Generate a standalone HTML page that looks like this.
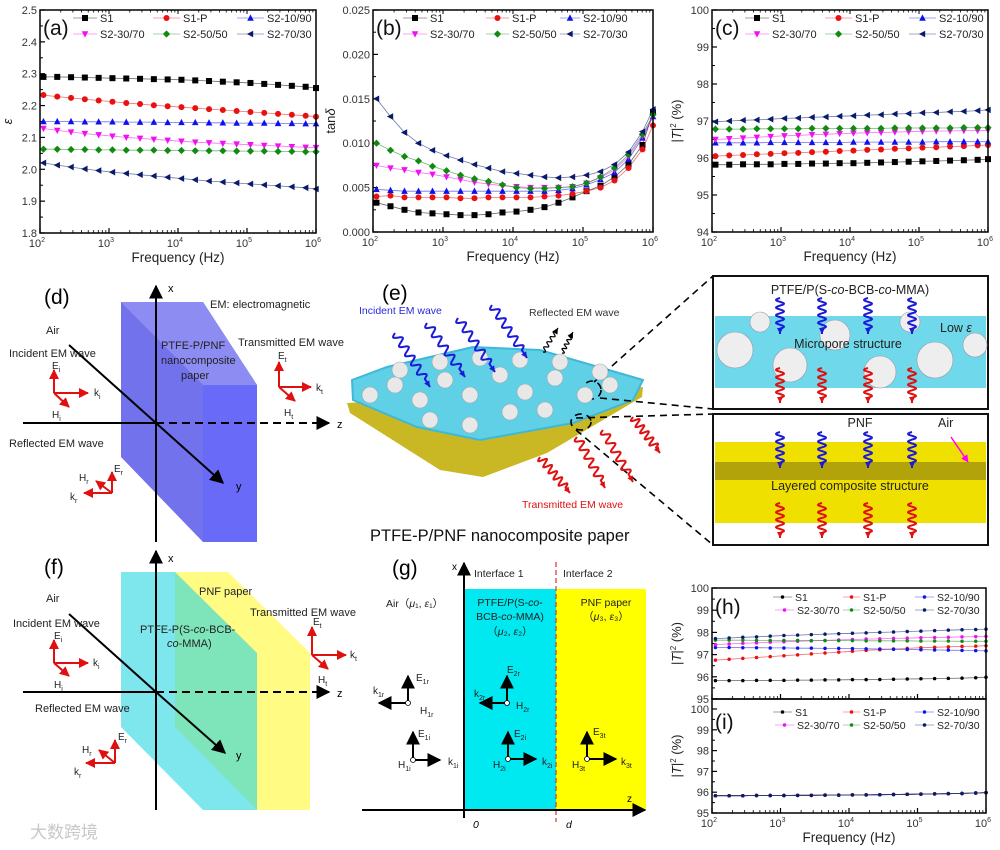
<!DOCTYPE html>
<html><head><meta charset="utf-8">
<style>
html,body{margin:0;padding:0;background:#fff;}
svg{display:block;font-family:"Liberation Sans","Noto Sans CJK SC",sans-serif;}
</style></head>
<body>
<svg id="fig" width="1000" height="850" viewBox="0 0 1000 850" xmlns="http://www.w3.org/2000/svg">
<defs>
<marker id="ah" viewBox="0 0 10 10" refX="9" refY="5" markerWidth="7" markerHeight="7" orient="auto-start-reverse"><path d="M0,0 L10,5 L0,10 z" fill="#000"/></marker>
<marker id="ahr" viewBox="0 0 10 10" refX="9" refY="5" markerWidth="5" markerHeight="5" orient="auto-start-reverse"><path d="M0,0 L10,5 L0,10 z" fill="#e01010"/></marker>
<marker id="ahm" viewBox="0 0 10 10" refX="9" refY="5" markerWidth="5" markerHeight="5" orient="auto"><path d="M0,0 L10,5 L0,10 z" fill="#f0f"/></marker>
</defs>

<!-- (d) diagram -->
<g>
<polygon points="121,302 203,302 257,385 257,542 203,542 121,457" fill="#7272ec"/>
<polygon points="121,302 203,302 257,385 203,385" fill="#8c8cf2"/>
<rect x="203" y="385" width="54" height="157" fill="#6a6af8"/>
<line x1="156" y1="542" x2="156" y2="286" stroke="#000" stroke-width="2" marker-end="url(#ah)"/>
<line x1="23" y1="423" x2="156" y2="423" stroke="#000" stroke-width="2"/>
<line x1="156" y1="423" x2="329" y2="423" stroke="#000" stroke-width="2" stroke-dasharray="8,5" marker-end="url(#ah)"/>
<line x1="156" y1="423" x2="223" y2="483" stroke="#000" stroke-width="2" marker-end="url(#ah)"/>
<line x1="69" y1="345" x2="156" y2="423" stroke="#000" stroke-width="2"/>
<text x="44" y="304" font-size="21">(d)</text>
<text x="168" y="292" font-size="11">x</text>
<text x="337" y="428" font-size="11">z</text>
<text x="236" y="490" font-size="11">y</text>
<text x="210" y="308" font-size="11" fill="#222">EM: electromagnetic</text>
<text x="46" y="334" font-size="11" fill="#222">Air</text>
<text x="9" y="357" font-size="11" fill="#222">Incident EM wave</text>
<text x="161" y="349" font-size="11" fill="#222">PTFE-P/PNF</text>
<text x="161" y="364" font-size="11" fill="#222">nanocomposite</text>
<text x="181" y="379" font-size="11" fill="#222">paper</text>
<text x="238" y="346" font-size="11" fill="#222">Transmitted EM wave</text>
<text x="9" y="447" font-size="11" fill="#222">Reflected EM wave</text>
<g stroke="#e01010" stroke-width="2" fill="none">
<line x1="54" y1="393" x2="54" y2="370" marker-end="url(#ahr)"/><line x1="54" y1="393" x2="88" y2="393" marker-end="url(#ahr)"/><line x1="54" y1="393" x2="69" y2="407" marker-end="url(#ahr)"/>
<line x1="279" y1="387" x2="279" y2="362" marker-end="url(#ahr)"/><line x1="279" y1="387" x2="311" y2="387" marker-end="url(#ahr)"/><line x1="279" y1="387" x2="295" y2="401" marker-end="url(#ahr)"/>
<line x1="112" y1="493" x2="112" y2="472" marker-end="url(#ahr)"/><line x1="112" y1="493" x2="84" y2="493" marker-end="url(#ahr)"/><line x1="112" y1="493" x2="96" y2="481" marker-end="url(#ahr)"/>
</g>
<g font-size="10" fill="#222">
<text x="52" y="369">E<tspan font-size="7" dy="3">i</tspan></text><text x="94" y="396">k<tspan font-size="7" dy="3">i</tspan></text><text x="52" y="418">H<tspan font-size="7" dy="3">i</tspan></text>
<text x="278" y="359">E<tspan font-size="7" dy="3">t</tspan></text><text x="316" y="391">k<tspan font-size="7" dy="3">t</tspan></text><text x="284" y="416">H<tspan font-size="7" dy="3">t</tspan></text>
<text x="114" y="472">E<tspan font-size="7" dy="3">r</tspan></text><text x="79" y="481">H<tspan font-size="7" dy="3">r</tspan></text><text x="70" y="500">k<tspan font-size="7" dy="3">r</tspan></text>
</g>
</g>

<!-- (e) illustration -->
<g id="pe">
<polygon points="347,403 643,387 642,397 547,453 483,477 440,470 350,413" fill="#c9b824"/>
<polygon points="352,380 387,367 473,347 540,350 643,380 633,400 573,423 480,440 417,427 353,400" fill="#5fd0e6" stroke="#3fb8d8" stroke-width="2"/>
<text x="382" y="300" font-size="21">(e)</text>
<text x="359" y="314" font-size="10.5" fill="#2a2ad8">Incident EM wave</text>
<text x="529" y="316" font-size="10.5" fill="#333">Reflected EM wave</text>
<text x="522" y="508" font-size="10.5" fill="#e01010">Transmitted EM wave</text>
<text x="370" y="541" font-size="16.5" fill="#111">PTFE-P/PNF nanocomposite paper</text>
<g stroke="#000" stroke-width="1.6" stroke-dasharray="7,5" fill="none">
<line x1="594" y1="382" x2="713" y2="276"/><line x1="600" y1="398" x2="713" y2="409"/>
<line x1="576" y1="418" x2="713" y2="414"/><line x1="576" y1="430" x2="713" y2="545"/>
<circle cx="592" cy="390" r="9"/><ellipse cx="581" cy="422" rx="10" ry="8"/>
</g>
</g>

<!-- top inset -->
<g id="inTop">
<rect x="713" y="276" width="275" height="133" fill="#fff" stroke="#111" stroke-width="2"/>
<rect x="715" y="316" width="271" height="72" fill="#6fd8ea"/>
<text x="850" y="294" font-size="12.5" text-anchor="middle" fill="#222">PTFE/P(S-<tspan font-style="italic">co</tspan>-BCB-<tspan font-style="italic">co</tspan>-MMA)</text>
<text x="848" y="348" font-size="12.5" text-anchor="middle" fill="#222">Micropore structure</text>
<text x="940" y="332" font-size="12.5" fill="#222">Low <tspan font-style="italic">ε</tspan></text>
</g>
<!-- bottom inset -->
<g id="inBot">
<rect x="713" y="414" width="275" height="131" fill="#fff" stroke="#111" stroke-width="2"/>
<rect x="715" y="442" width="271" height="81" fill="#f0e000"/>
<rect x="715" y="462" width="271" height="18" fill="#8a7a10" opacity="0.6"/>
<text x="860" y="427" font-size="12.5" text-anchor="middle" fill="#222">PNF</text>
<text x="938" y="427" font-size="12.5" fill="#222">Air</text>
<line x1="951" y1="437" x2="968" y2="462" stroke="#f0f" stroke-width="1.5" marker-end="url(#ahm)"/>
<text x="850" y="490" font-size="12.5" text-anchor="middle" fill="#222">Layered composite structure</text>
</g>

<!-- (f) diagram -->
<g>
<polygon points="175,572 228,572 310,653 310,810 257,810 175,727" fill="rgba(255,250,90,0.75)"/>
<polygon points="121,572 175,572 257,653 257,810 203,810 121,727" fill="rgba(40,215,225,0.6)"/>
<line x1="156" y1="810" x2="156" y2="551" stroke="#000" stroke-width="2" marker-end="url(#ah)"/>
<line x1="23" y1="692" x2="156" y2="692" stroke="#000" stroke-width="2"/>
<line x1="156" y1="692" x2="329" y2="692" stroke="#000" stroke-width="2" stroke-dasharray="8,5" marker-end="url(#ah)"/>
<line x1="156" y1="692" x2="225" y2="753" stroke="#000" stroke-width="2" marker-end="url(#ah)"/>
<line x1="69" y1="614" x2="156" y2="692" stroke="#000" stroke-width="2"/>
<text x="44" y="574" font-size="21">(f)</text>
<text x="168" y="562" font-size="11">x</text>
<text x="337" y="697" font-size="11">z</text>
<text x="236" y="759" font-size="11">y</text>
<text x="46" y="602" font-size="11" fill="#222">Air</text>
<text x="13" y="627" font-size="11" fill="#222">Incident EM wave</text>
<text x="199" y="595" font-size="11" fill="#222">PNF paper</text>
<text x="250" y="616" font-size="11" fill="#222">Transmitted EM wave</text>
<text x="140" y="633" font-size="11" fill="#222">PTFE-P(S-<tspan font-style="italic">co</tspan>-BCB-</text>
<text x="167" y="647" font-size="11" fill="#222"><tspan font-style="italic">co</tspan>-MMA)</text>
<text x="35" y="712" font-size="11" fill="#222">Reflected EM wave</text>
<g stroke="#e01010" stroke-width="2" fill="none">
<line x1="54" y1="663" x2="54" y2="640" marker-end="url(#ahr)"/><line x1="54" y1="663" x2="88" y2="663" marker-end="url(#ahr)"/><line x1="54" y1="663" x2="69" y2="676" marker-end="url(#ahr)"/>
<line x1="312" y1="655" x2="312" y2="627" marker-end="url(#ahr)"/><line x1="312" y1="655" x2="346" y2="655" marker-end="url(#ahr)"/><line x1="312" y1="655" x2="328" y2="669" marker-end="url(#ahr)"/>
<line x1="115" y1="763" x2="115" y2="740" marker-end="url(#ahr)"/><line x1="115" y1="763" x2="86" y2="763" marker-end="url(#ahr)"/><line x1="115" y1="763" x2="99" y2="750" marker-end="url(#ahr)"/>
</g>
<g font-size="10" fill="#222">
<text x="54" y="639">E<tspan font-size="7" dy="3">i</tspan></text><text x="93" y="666">k<tspan font-size="7" dy="3">i</tspan></text><text x="54" y="688">H<tspan font-size="7" dy="3">i</tspan></text>
<text x="313" y="625">E<tspan font-size="7" dy="3">t</tspan></text><text x="350" y="658">k<tspan font-size="7" dy="3">t</tspan></text><text x="318" y="683">H<tspan font-size="7" dy="3">t</tspan></text>
<text x="118" y="740">E<tspan font-size="7" dy="3">r</tspan></text><text x="82" y="753">H<tspan font-size="7" dy="3">r</tspan></text><text x="74" y="775">k<tspan font-size="7" dy="3">r</tspan></text>
</g>
</g>

<!-- (g) diagram -->
<g>
<rect x="464" y="589" width="92" height="221" fill="#00e8f0"/>
<rect x="556" y="589" width="90" height="221" fill="#ffff00"/>
<line x1="556" y1="562" x2="556" y2="822" stroke="#e03030" stroke-width="1.2" stroke-dasharray="5,3"/>
<line x1="464" y1="818" x2="464" y2="563" stroke="#000" stroke-width="2" marker-end="url(#ah)"/>
<line x1="362" y1="810" x2="645" y2="810" stroke="#000" stroke-width="2" marker-end="url(#ah)"/>
<text x="392" y="575" font-size="21">(g)</text>
<text x="452" y="570" font-size="10">x</text>
<text x="627" y="802" font-size="10">z</text>
<text x="474" y="577" font-size="10.5" fill="#222">Interface 1</text>
<text x="563" y="577" font-size="10.5" fill="#222">Interface 2</text>
<text x="386" y="607" font-size="10.5" fill="#222">Air（<tspan font-style="italic">μ</tspan>₁, <tspan font-style="italic">ε</tspan>₁）</text>
<text x="510" y="606" font-size="10.5" text-anchor="middle" fill="#222">PTFE/P(S-<tspan font-style="italic">co</tspan>-</text>
<text x="510" y="620" font-size="10.5" text-anchor="middle" fill="#222">BCB-<tspan font-style="italic">co</tspan>-MMA)</text>
<text x="510" y="635" font-size="10.5" text-anchor="middle" fill="#222">（<tspan font-style="italic">μ</tspan>₂, <tspan font-style="italic">ε</tspan>₂）</text>
<text x="606" y="606" font-size="10.5" text-anchor="middle" fill="#222">PNF paper</text>
<text x="606" y="620" font-size="10.5" text-anchor="middle" fill="#222">（<tspan font-style="italic">μ</tspan>₃, <tspan font-style="italic">ε</tspan>₃）</text>
<text x="473" y="828" font-size="10.5" font-style="italic">0</text>
<text x="566" y="828" font-size="10.5" font-style="italic">d</text>
<g stroke="#000" stroke-width="2">
<line x1="408" y1="703" x2="408" y2="676" marker-end="url(#ah)"/><line x1="408" y1="703" x2="379" y2="703" marker-end="url(#ah)"/>
<line x1="507" y1="703" x2="507" y2="676" marker-end="url(#ah)"/><line x1="507" y1="703" x2="480" y2="703" marker-end="url(#ah)"/>
<line x1="413" y1="760" x2="413" y2="732" marker-end="url(#ah)"/><line x1="413" y1="760" x2="440" y2="760" marker-end="url(#ah)"/>
<line x1="508" y1="759" x2="508" y2="732" marker-end="url(#ah)"/><line x1="508" y1="759" x2="536" y2="759" marker-end="url(#ah)"/>
<line x1="587" y1="759" x2="587" y2="732" marker-end="url(#ah)"/><line x1="587" y1="759" x2="616" y2="759" marker-end="url(#ah)"/>
</g>
<g fill="#fff" stroke="#000" stroke-width="0.8"><circle cx="408" cy="703" r="2.5"/><circle cx="507" cy="703" r="2.5"/><circle cx="413" cy="760" r="2.5"/><circle cx="508" cy="759" r="2.5"/><circle cx="587" cy="759" r="2.5"/></g>
<g font-size="10" fill="#222">
<text x="416" y="681">E<tspan font-size="7" dy="3">1r</tspan></text><text x="373" y="694">k<tspan font-size="7" dy="3">1r</tspan></text><text x="420" y="714">H<tspan font-size="7" dy="3">1r</tspan></text>
<text x="507" y="673">E<tspan font-size="7" dy="3">2r</tspan></text><text x="474" y="697">k<tspan font-size="7" dy="3">2r</tspan></text><text x="516" y="709">H<tspan font-size="7" dy="3">2r</tspan></text>
<text x="418" y="737">E<tspan font-size="7" dy="3">1i</tspan></text><text x="398" y="768">H<tspan font-size="7" dy="3">1i</tspan></text><text x="448" y="765">k<tspan font-size="7" dy="3">1i</tspan></text>
<text x="514" y="737">E<tspan font-size="7" dy="3">2i</tspan></text><text x="493" y="768">H<tspan font-size="7" dy="3">2i</tspan></text><text x="542" y="765">k<tspan font-size="7" dy="3">2i</tspan></text>
<text x="593" y="735">E<tspan font-size="7" dy="3">3t</tspan></text><text x="572" y="768">H<tspan font-size="7" dy="3">3t</tspan></text><text x="621" y="765">k<tspan font-size="7" dy="3">3t</tspan></text>
</g>
</g>
<text x="30" y="838" font-size="17" fill="#c8c8c8">大数跨境</text>
<g id="charts"></g>
</svg>

<script>
// ---- shared x grid (log10 frequency exponents) ----
const freqExp = [2.05,2.25,2.45,2.65,2.85,3.05,3.25,3.45,3.65,3.85,4.05,4.25,4.45,4.65,4.85,5.05,5.25,5.45,5.65,5.85,6.0];
const seriesNames = ["S1","S1-P","S2-10/90","S2-30/70","S2-50/50","S2-70/30"];
const xTickExps = [2,3,4,5,6];

// (a) permittivity
const aS1   = [2.290,2.290,2.289,2.288,2.287,2.286,2.285,2.284,2.283,2.282,2.281,2.279,2.277,2.275,2.273,2.271,2.268,2.265,2.262,2.259,2.255];
const aS1P  = [2.233,2.228,2.224,2.220,2.216,2.212,2.208,2.205,2.201,2.198,2.195,2.192,2.189,2.186,2.183,2.180,2.177,2.174,2.171,2.168,2.165];
const aS210 = [2.150,2.150,2.150,2.149,2.149,2.149,2.148,2.148,2.148,2.147,2.147,2.147,2.146,2.146,2.145,2.145,2.145,2.144,2.144,2.143,2.143];
const aS230 = [2.128,2.122,2.117,2.112,2.108,2.104,2.100,2.097,2.094,2.091,2.088,2.085,2.083,2.081,2.079,2.077,2.075,2.073,2.071,2.069,2.068];
const aS250 = [2.063,2.063,2.062,2.062,2.061,2.061,2.060,2.060,2.060,2.059,2.059,2.058,2.058,2.058,2.057,2.057,2.057,2.056,2.056,2.055,2.055];
const aS270 = [2.020,2.013,2.007,2.001,1.996,1.991,1.987,1.983,1.979,1.975,1.971,1.967,1.963,1.960,1.957,1.954,1.951,1.948,1.945,1.942,1.938];
const aTicks = ["1.8","1.9","2.0","2.1","2.2","2.3","2.4","2.5"];

// (b) tan delta (x1e-3)
const bS1   = [3.3,2.9,2.5,2.2,2.1,2.0,1.9,1.9,2.0,2.2,2.3,2.5,2.8,3.3,3.9,4.6,5.2,6.2,7.6,9.8,13.5];
const bS1P  = [4.0,4.1,3.9,3.9,3.9,3.9,3.8,3.8,3.9,3.9,3.9,3.9,4.0,4.1,4.3,4.6,5.0,5.8,7.2,9.3,12.0];
const bS210 = [4.8,4.7,4.6,4.6,4.6,4.6,4.6,4.6,4.6,4.6,4.6,4.6,4.6,4.7,4.9,5.3,5.9,6.7,8.2,10.6,13.0];
const bS230 = [7.5,7.2,7.0,6.7,6.5,6.2,5.9,5.6,5.4,5.2,5.1,5.0,5.0,5.0,5.1,5.5,6.1,7.0,8.5,10.8,13.0];
const bS250 = [10.0,9.2,8.5,8.0,7.4,6.9,6.4,6.0,5.7,5.3,5.0,4.9,4.9,5.0,5.1,5.5,6.2,7.2,8.7,11.0,13.2];
const bS270 = [15.0,13.0,11.2,10.0,9.2,8.6,8.1,7.6,7.2,6.8,6.6,6.4,6.2,6.1,6.2,6.4,6.8,7.6,9.0,11.3,13.8];
const bTicks = ["0.000","0.005","0.010","0.015","0.020","0.025"];

// (c) |T|^2
const cS1   = [95.82,95.82,95.83,95.83,95.83,95.84,95.84,95.85,95.85,95.86,95.86,95.87,95.88,95.89,95.90,95.91,95.92,95.93,95.94,95.95,95.97];
const cS1P  = [96.05,96.07,96.08,96.10,96.11,96.13,96.14,96.16,96.17,96.19,96.20,96.22,96.23,96.25,96.26,96.28,96.29,96.31,96.32,96.34,96.35];
const cS210 = [96.41,96.41,96.41,96.41,96.42,96.42,96.42,96.42,96.42,96.42,96.43,96.43,96.43,96.43,96.43,96.43,96.44,96.44,96.44,96.44,96.44];
const cS230 = [96.50,96.52,96.54,96.56,96.58,96.60,96.61,96.63,96.64,96.66,96.67,96.68,96.69,96.70,96.71,96.72,96.73,96.73,96.74,96.74,96.75];
const cS250 = [96.78,96.78,96.78,96.79,96.79,96.79,96.79,96.80,96.80,96.80,96.80,96.80,96.80,96.81,96.81,96.81,96.81,96.81,96.82,96.82,96.82];
const cS270 = [96.98,97.00,97.02,97.03,97.05,97.07,97.08,97.10,97.11,97.13,97.14,97.16,97.17,97.19,97.20,97.22,97.23,97.25,97.26,97.28,97.30];
const cTicks = ["94","95","96","97","98","99","100"];

// (h) |T|^2
const hS1   = [95.83,95.83,95.83,95.84,95.84,95.84,95.85,95.85,95.86,95.86,95.87,95.87,95.88,95.89,95.90,95.91,95.92,95.93,95.94,95.96,95.98];
const hS1P  = [96.75,96.79,96.83,96.87,96.91,96.95,96.99,97.03,97.07,97.11,97.15,97.19,97.22,97.25,97.28,97.31,97.33,97.35,97.37,97.38,97.40];
const hS210 = [97.32,97.32,97.31,97.31,97.30,97.30,97.29,97.29,97.28,97.28,97.27,97.26,97.25,97.24,97.23,97.22,97.21,97.20,97.19,97.18,97.17];
const hS230 = [97.45,97.48,97.51,97.53,97.56,97.58,97.60,97.62,97.64,97.66,97.68,97.70,97.71,97.73,97.74,97.76,97.77,97.78,97.80,97.81,97.82];
const hS250 = [97.65,97.65,97.65,97.64,97.64,97.64,97.64,97.63,97.63,97.63,97.63,97.62,97.62,97.62,97.62,97.61,97.61,97.61,97.60,97.60,97.60];
const hS270 = [97.72,97.75,97.78,97.80,97.83,97.86,97.88,97.90,97.92,97.94,97.96,97.98,98.00,98.02,98.04,98.06,98.08,98.10,98.12,98.13,98.15];
const hTicks = ["95","96","97","98","99","100"];

// (i) |T|^2 (all overlapping)
const iS1   = [95.83,95.83,95.83,95.84,95.84,95.84,95.85,95.85,95.86,95.86,95.87,95.87,95.88,95.89,95.90,95.91,95.92,95.93,95.94,95.96,95.98];
const iS1P  = [95.83,95.83,95.83,95.84,95.84,95.84,95.85,95.85,95.86,95.86,95.87,95.87,95.88,95.89,95.90,95.91,95.92,95.93,95.94,95.96,95.98];
const iS210 = [95.83,95.83,95.83,95.84,95.84,95.84,95.85,95.85,95.86,95.86,95.87,95.87,95.88,95.89,95.90,95.91,95.92,95.93,95.94,95.96,95.98];
const iS230 = [95.83,95.83,95.83,95.84,95.84,95.84,95.85,95.85,95.86,95.86,95.87,95.87,95.88,95.89,95.90,95.91,95.92,95.93,95.94,95.96,95.98];
const iS250 = [95.83,95.83,95.83,95.84,95.84,95.84,95.85,95.85,95.86,95.86,95.87,95.87,95.88,95.89,95.90,95.91,95.92,95.93,95.94,95.96,95.98];
const iS270 = [95.83,95.83,95.83,95.84,95.84,95.84,95.85,95.85,95.86,95.86,95.87,95.87,95.88,95.89,95.90,95.91,95.92,95.93,95.94,95.96,95.98];
const iTicks = ["95","96","97","98","99","100"];

const NS = "http://www.w3.org/2000/svg";
const root = document.getElementById('charts');
const colors = ["#000000","#e81010","#1010e8","#f010f0","#108a10","#0a1a6a"];
const mtypes = ["square","circle","up","down","diamond","left"];

function mk(tag, attrs, parent){
  const e = document.createElementNS(NS, tag);
  for (const k in attrs) e.setAttribute(k, attrs[k]);
  (parent||root).appendChild(e);
  return e;
}
function marker(g, type, x, y, s, c){
  let e;
  if (type==="square") e = mk('rect',{x:x-s/2,y:y-s/2,width:s,height:s,fill:c},g);
  else if (type==="circle") e = mk('circle',{cx:x,cy:y,r:s/2,fill:c},g);
  else if (type==="diamond") e = mk('polygon',{points:`${x},${y-s*0.6} ${x+s*0.6},${y} ${x},${y+s*0.6} ${x-s*0.6},${y}`,fill:c},g);
  else if (type==="up") e = mk('polygon',{points:`${x},${y-s*0.6} ${x+s*0.55},${y+s*0.45} ${x-s*0.55},${y+s*0.45}`,fill:c},g);
  else if (type==="down") e = mk('polygon',{points:`${x},${y+s*0.6} ${x+s*0.55},${y-s*0.45} ${x-s*0.55},${y-s*0.45}`,fill:c},g);
  else e = mk('polygon',{points:`${x-s*0.6},${y} ${x+s*0.45},${y-s*0.55} ${x+s*0.45},${y+s*0.55}`,fill:c},g);
  return e;
}

function chart(cfg){
  const g = mk('g',{});
  
  
  const L=cfg.L,R=cfg.R,T=cfg.T,B=cfg.B;
  const xs = v => L + (v-2)/(6-2)*(R-L);
  const ys = v => B - (v-cfg.ylo)/(cfg.yhi-cfg.ylo)*(B-T);
  // y ticks
  cfg.yTickLabels.forEach((lab,i)=>{
    const v = cfg.yfirst + i*cfg.ystep;
    const y = ys(v);
    mk('line',{x1:L,y1:y,x2:L+5,y2:y,stroke:'#000','stroke-width':1.2},g);
    if (i < cfg.yTickLabels.length-1){
      const y2 = ys(v+cfg.ystep/2);
      mk('line',{x1:L,y1:y2,x2:L+3,y2:y2,stroke:'#000','stroke-width':1},g);
    }
    if (cfg.showY!==false){
      const t = mk('text',{x:L-3,y:y+4,'font-size':11,'text-anchor':'end',fill:'#333'},g);
      t.textContent = lab;
      
      
    }
  });
  // x ticks
  xTickExps.forEach((e,i)=>{
    const x = xs(e);
    mk('line',{x1:x,y1:B,x2:x,y2:B-5,stroke:'#000','stroke-width':1.2},g);
    if (cfg.topTicks) mk('line',{x1:x,y1:T,x2:x,y2:T+4,stroke:'#000','stroke-width':1},g);
    if (i<xTickExps.length-1){
      for (let m=2;m<10;m++){
        const xm = xs(e+Math.log10(m));
        mk('line',{x1:xm,y1:B,x2:xm,y2:B-3,stroke:'#000','stroke-width':0.8},g);
        if (cfg.topTicks) mk('line',{x1:xm,y1:T,x2:xm,y2:T+2.5,stroke:'#000','stroke-width':0.8},g);
      }
    }
    if (cfg.showX!==false){
      const t = mk('text',{x:x-3,y:B+14,'font-size':11,'text-anchor':'middle',fill:'#333'},g);
      
      
      t.appendChild(document.createTextNode('10'));
      const s = mk('tspan',{'font-size':7,dy:-5},t); s.textContent = String(e);
    }
  });
  // series
  cfg.series.forEach((arr,si)=>{
    const sg = mk('g',{},g);
    
    
    const pts = arr.map((v,i)=>`${xs(freqExp[i]).toFixed(1)},${ys(cfg.scale?v*cfg.scale:v).toFixed(1)}`).join(' ');
    mk('polyline',{points:pts,fill:'none',stroke:colors[si],'stroke-width':0.8,opacity:0.6},sg);
    arr.forEach((v,i)=>{
      const m = marker(sg, cfg.dots?'circle':mtypes[si], xs(freqExp[i]), ys(cfg.scale?v*cfg.scale:v), cfg.ms, colors[si]);
      
      
    });
  });
  // frame
  mk('rect',{x:L,y:T,width:R-L,height:B-T,fill:'none',stroke:'#000','stroke-width':1.5},g);
  // legend
  const cols=[[cfg.lg[0],cfg.lg[1]],[cfg.lg[2],cfg.lg[3]],[cfg.lg[4],cfg.lg[5]]];
  seriesNames.forEach((nm,si)=>{
    const row = si<3?0:1, col = si%3;
    let lx = L + cols[col][0], tx = L + cols[col][1];
    if (row===1 && col===0 && cfg.row2shift){ lx += cfg.row2shift; tx += cfg.row2shift; }
    const y = T + cfg.lgy[row];
    const le = mk('g',{},g);
    
    
    mk('line',{x1:lx,y1:y,x2:tx-3,y2:y,stroke:colors[si],'stroke-width':0.8,opacity:0.5},le);
    marker(le, cfg.dots?'circle':mtypes[si], (lx+tx-3)/2, y, cfg.ms, colors[si]);
    const t = mk('text',{x:tx,y:y+4,'font-size':cfg.lfs,fill:'#222'},le);
    t.textContent = nm;
  });
  // panel letter
  const pl = mk('text',{x:L+3,y:T+cfg.plY,'font-size':cfg.plS,fill:'#111'},g);
  pl.textContent = cfg.letter;
  
  
  // titles
  if (cfg.xTitle){
    const t = mk('text',{x:(L+R)/2,y:B+29,'font-size':13.5,'text-anchor':'middle',fill:'#222'},g);
    t.textContent = 'Frequency (Hz)';
    
    
  }
  const yt = mk('text',{x:0,y:0,'font-size':13,'text-anchor':'middle',fill:'#222',transform:`translate(${cfg.ytx},${(T+B)/2}) rotate(-90)`},g);
  
  
  if (cfg.yTitle==='eps'){ const s=mk('tspan',{'font-style':'italic'},yt); s.textContent='ε'; }
  else if (cfg.yTitle==='tan'){ yt.appendChild(document.createTextNode('tan')); const s=mk('tspan',{'font-style':'italic'},yt); s.textContent='δ'; }
  else { yt.appendChild(document.createTextNode('|')); const s=mk('tspan',{'font-style':'italic'},yt); s.textContent='T';
    yt.appendChild(document.createTextNode('|')); const s2=mk('tspan',{'font-size':8,dy:-5},yt); s2.textContent='2';
    const s3=mk('tspan',{dy:5},yt); s3.textContent=' (%)'; }
}

const lgBig = [33,60,113,143,197,227];
chart({name:'chart-a-permittivity',L:40,R:316,T:10,B:233,ylo:1.8,yhi:2.5,yfirst:1.8,ystep:0.1,yTickLabels:aTicks,
  series:[aS1,aS1P,aS210,aS230,aS250,aS270],ms:6,lg:lgBig,lgy:[8,24],lfs:11,letter:'(a)',plY:25,plS:21,xTitle:true,yTitle:'eps',ytx:12,topTicks:true});
chart({name:'chart-b-loss-tangent',L:373,R:653,T:10,B:232,ylo:0,yhi:25,yfirst:0,ystep:5,yTickLabels:bTicks,
  series:[bS1,bS1P,bS210,bS230,bS250,bS270],ms:6,lg:[30,57,113,139,187,210],lgy:[8,24],lfs:11,letter:'(b)',plY:25,plS:21,xTitle:true,yTitle:'tan',ytx:335,topTicks:true});
chart({name:'chart-c-transmittance',L:712,R:988,T:10,B:232,ylo:94,yhi:100,yfirst:94,ystep:1,yTickLabels:cTicks,
  series:[cS1,cS1P,cS210,cS230,cS250,cS270],ms:6,lg:lgBig,lgy:[8,24],lfs:11,letter:'(c)',plY:25,plS:21,xTitle:true,yTitle:'T',ytx:681,topTicks:true});
chart({name:'chart-h-transmittance',L:712,R:986,T:588,B:699,ylo:95,yhi:100,yfirst:95,ystep:1,yTickLabels:hTicks,
  series:[hS1,hS1P,hS210,hS230,hS250,hS270],ms:3.5,dots:true,lg:[61,83,131,151,203,225],lgy:[9,22],row2shift:2,lfs:10.5,letter:'(h)',plY:26,plS:21,xTitle:false,showX:false,yTitle:'T',ytx:681,topTicks:false});
chart({name:'chart-i-transmittance',L:712,R:986,T:699,B:813,ylo:95,yhi:100.48,yfirst:95,ystep:1,yTickLabels:iTicks,
  series:[iS1,iS1P,iS210,iS230,iS250,iS270],ms:3.5,dots:true,lg:[61,83,131,151,203,225],lgy:[13,26],row2shift:2,lfs:10.5,letter:'(i)',plY:30,plS:21,xTitle:true,yTitle:'T',ytx:681,topTicks:false});

// ---- decorative waves and pores ----
function squiggle(parent,x0,y0,x1,y1,n,amp,col,w,name){
  const dx=x1-x0, dy=y1-y0, len=Math.hypot(dx,dy), ux=dx/len, uy=dy/len, px=-uy, py=ux;
  let pts=[];
  const N=n*12;
  for(let k=0;k<=N;k++){
    const t=k/N*0.85, a=Math.sin(k/N*n*2*Math.PI)*amp;
    pts.push(`${(x0+dx*t+px*a).toFixed(1)},${(y0+dy*t+py*a).toFixed(1)}`);
  }
  pts.push(`${x1},${y1}`);
  const p = mk('polyline',{points:pts.join(' '),fill:'none',stroke:col,'stroke-width':w,'stroke-linejoin':'round'},parent);
  
  
  const hx=x1-ux*6, hy=y1-uy*6;
  mk('polygon',{points:`${x1},${y1} ${hx+px*3},${hy+py*3} ${hx-px*3},${hy-py*3}`,fill:col},parent);
}
const pe = document.getElementById('pe');
const pores = [[370,395],[395,385],[420,400],[445,380],[470,395],[500,375],[525,392],[555,378],[585,395],[610,385],[430,420],[470,425],[510,412],[545,410],[400,370],[440,362],[480,358],[520,360],[560,362],[600,372]];
pores.forEach(p=>{ const c=mk('circle',{cx:p[0],cy:p[1],r:8,fill:'#e8e8e8',stroke:'#9aa','stroke-width':0.6},pe);   });
[[395,333,430,387],[427,323,465,377],[458,318,495,372],[492,305,527,358]].forEach(s=>squiggle(pe,s[0],s[1],s[2],s[3],5,4,'#1a1ad8',2,'incident-wave'));
[[543,352,558,328],[562,353,573,332]].forEach(s=>squiggle(pe,s[0],s[1],s[2],s[3],4,2,'#000',1.2,'reflected-wave'));
[[540,457,570,493],[577,437,605,488],[603,430,633,482],[633,417,660,453]].forEach(s=>squiggle(pe,s[0],s[1],s[2],s[3],5,4,'#e01010',2,'transmitted-wave'));
const it = document.getElementById('inTop');
[[735,350,18],[790,365,17],[835,335,15],[880,372,16],[935,360,18],[975,345,12],[760,322,10],[910,322,10]].forEach(p=>{ const c=mk('circle',{cx:p[0],cy:p[1],r:p[2],fill:'#eeeeee',stroke:'#99a','stroke-width':0.6},it);   });
it.appendChild(it.children[2]); it.appendChild(it.children[2]); it.appendChild(it.children[2]);
[780,822,868,912].forEach(x=>{ squiggle(it,x,298,x,334,4,4,'#1a1ad8',2,'incident-wave'); squiggle(it,x,368,x,403,4,4,'#e01010',2,'transmitted-wave'); });
const ib = document.getElementById('inBot');
[780,822,868,912].forEach(x=>{ squiggle(ib,x,432,x,468,4,4,'#1a1ad8',2,'incident-wave'); squiggle(ib,x,503,x,538,4,4,'#e01010',2,'transmitted-wave'); });
</script>
</body></html>
